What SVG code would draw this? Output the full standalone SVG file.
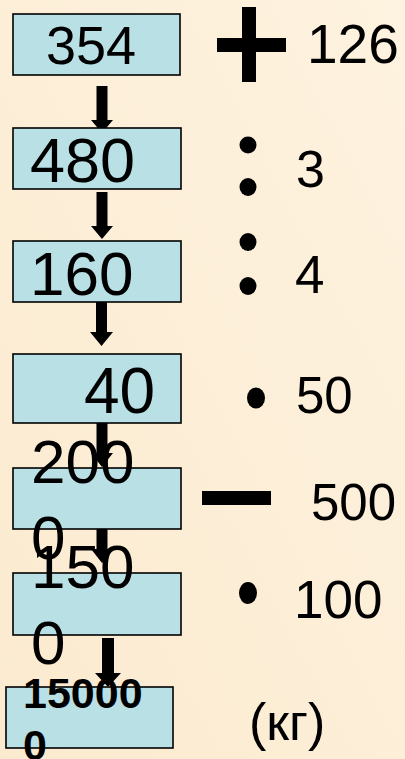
<svg xmlns="http://www.w3.org/2000/svg" width="405" height="759" viewBox="0 0 405 759">
<defs>
<linearGradient id="bg" x1="1" y1="0" x2="0" y2="1">
<stop offset="0" stop-color="#FEF3E0"/>
<stop offset="1" stop-color="#FBEACF"/>
</linearGradient>
<style>
.box{fill:#B9E0E4;stroke:#000;stroke-width:1.6}
.t{font-family:"Liberation Sans",Arial,sans-serif;fill:#000}
.op{fill:#000}
</style>
</defs>
<rect x="0" y="0" width="405" height="759" fill="url(#bg)"/>
<g id="connectors" fill="#000">
<polygon points="96.5,86 107.5,86 107.5,120 113,120 102,133 91,120 96.5,120"/>
<polygon points="96.5,192 107.5,192 107.5,226 113,226 102,239 91,226 96.5,226"/>
<polygon points="96,300 107,300 107,332 113,332 101.5,346 90,332 96,332"/>
<polygon points="96.5,419 107.5,419 107.5,453 113,453 102,467 91,453 96.5,453"/>
<polygon points="96.5,517 107.5,517 107.5,549 113,549 102,563 91,549 96.5,549"/>
<polygon points="102,638 114,638 114,673 121,673 108,687 95,673 102,673"/>
</g>
<g id="n354"><rect class="box" x="13" y="14" width="167" height="61"/><text class="t" x="46" y="64" font-size="54">354</text></g>
<g id="n480"><rect class="box" x="13" y="128" width="168" height="61"/><text class="t" x="30" y="182" font-size="63">480</text></g>
<g id="n160"><rect class="box" x="13" y="241" width="168" height="61"/><text class="t" x="30" y="295" font-size="62">160</text></g>
<g id="n40"><rect class="box" x="13" y="354" width="168" height="69"/><text class="t" x="84" y="413" font-size="64">40</text></g>
<g id="n2000"><rect class="box" x="13" y="468" width="168" height="61"/><text class="t" font-size="62"><tspan x="31" y="483">200</tspan><tspan x="31" y="559">0</tspan></text></g>
<g id="n1500"><rect class="box" x="13" y="573" width="168" height="62"/><text class="t" font-size="62"><tspan x="31" y="588">150</tspan><tspan x="31" y="664">0</tspan></text></g>
<g id="n150000"><rect class="box" x="6" y="687" width="167" height="61"/><text class="t" font-size="43" font-weight="bold"><tspan x="23" y="708">15000</tspan><tspan x="23" y="760">0</tspan></text></g>
<g id="ops">
<rect class="op" x="242" y="7" width="14" height="75"/>
<rect class="op" x="217" y="38" width="69" height="14"/>
<text class="t" x="307" y="63" font-size="55">126</text>
<ellipse class="op" cx="248" cy="145" rx="8.5" ry="8.5"/>
<ellipse class="op" cx="248" cy="187" rx="8.5" ry="9"/>
<text class="t" x="296" y="187" font-size="52">3</text>
<ellipse class="op" cx="248" cy="242" rx="8.5" ry="9"/>
<ellipse class="op" cx="248" cy="286" rx="8.5" ry="9"/>
<text class="t" x="295" y="293" font-size="53">4</text>
<ellipse class="op" cx="256" cy="398" rx="9" ry="10.5"/>
<text class="t" x="296" y="413" font-size="51">50</text>
<rect class="op" x="202" y="491" width="69" height="14"/>
<text class="t" x="311" y="520" font-size="51">500</text>
<ellipse class="op" cx="248" cy="593" rx="9" ry="11"/>
<text class="t" x="294" y="618" font-size="53">100</text>
<text class="t" x="249" y="740" font-size="52">(кг)</text>
</g>
</svg>
